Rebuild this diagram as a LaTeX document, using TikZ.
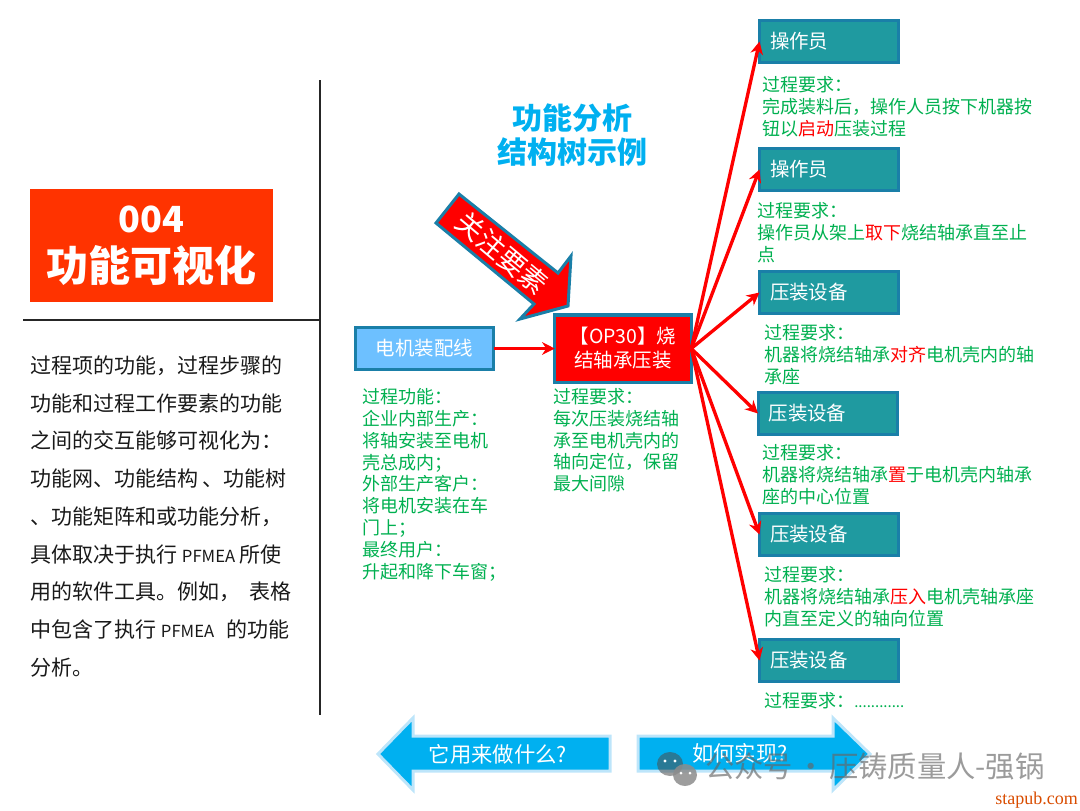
\documentclass[tikz,border=0pt]{standalone}
\usepackage{fontspec}
\setmainfont{Noto Sans CJK SC}
\newfontfamily\wmserif{Liberation Serif}
\usetikzlibrary{arrows.meta}
\definecolor{procgreen}{HTML}{00B050}
\definecolor{edgeblue}{HTML}{1A7FA8}
\definecolor{tealfill}{HTML}{1F9AA0}
\definecolor{skyfill}{HTML}{6DC0FF}
\definecolor{titlered}{HTML}{FF3300}
\definecolor{cyanfill}{HTML}{00B0F0}
\definecolor{cyanedge}{HTML}{BDE5FA}
\newcommand{\rd}[1]{\textcolor{red}{#1}}
\tikzset{
  x=0.75pt,y=-0.75pt,
  tealbox/.style={draw=edgeblue,fill=tealfill,line width=2.25pt,text=white,minimum width=104.25pt,minimum height=31.5pt,
    text width=88.45pt,inner xsep=7.9pt,inner ysep=0pt,align=left,font=\fontsize{14.6}{17}\selectfont,outer sep=0pt},
  greentext/.style={anchor=north west,inner sep=0pt,align=left,text=procgreen,font=\fontsize{13.5}{16.4}\selectfont},
  redarrow/.style={draw=red,line width=2.5pt,-{Stealth[length=9.5pt,width=9.5pt]}},
  bigshape/.style={fill=cyanfill,draw=cyanedge,line width=2.25pt,line join=miter},
  rule/.style={draw=black!85,line width=0.9pt},
}
\begin{document}
\begin{tikzpicture}
\useasboundingbox (0,0) rectangle (1080,810);
% frame lines
\coordinate (hl) at (23,320); \coordinate (hr) at (320,320);
\coordinate (vt) at (320,80); \coordinate (vb) at (320,715);
\draw[rule] (hl) -- (hr);
\draw[rule] (vt) -- (vb);
% title
\node[fill=titlered,text=white,minimum width=182.25pt,minimum height=84.75pt,inner sep=0pt,align=center,font=\bfseries] (title) at (151.5,245.5)
 {\fontsize{27}{36}\selectfont 004\\[8.5pt]\fontsize{31.5}{38}\selectfont 功能可视化};
% left text
\node[anchor=north west,inner sep=0pt,align=left,text=black!90,font=\fontsize{15.75}{28.3}\selectfont] (desc) at (30,355.5)
 {过程项的功能，过程步骤的\\
  功能和过程工作要素的功能\\
  之间的交互能够可视化为：\\
  功能网、功能结构 、功能树\\
  、功能矩阵和或功能分析，\\
  具体取决于执行 {\fontsize{12.5}{28.3}\selectfont PFMEA} 所使\\
  用的软件工具。例如，\hspace{3.7pt} 表格\\
  中包含了执行 {\fontsize{12.5}{28.3}\selectfont PFMEA}\hspace{6pt} 的功能\\
  分析。};
% heading
\node[text=cyanfill,inner sep=0pt,align=center,font=\bfseries\fontsize{22.5}{25.5}\selectfont] (head) at (572,135)
 {功能分析\\结构树示例};
% big callout arrow
\draw[fill=red,draw=edgeblue,line width=2.25pt,line join=miter]
  (459,194) -- (558,273) -- (571,256) -- (568,306) -- (520,319) -- (534,304) -- (436,223) -- cycle;
\node[text=white,rotate=-40,inner sep=0pt,font=\fontsize{20.5}{22}\selectfont] (focus) at (502,253) {关注要素};
% main boxes
\node[draw=edgeblue,fill=skyfill,line width=2.25pt,text=white,minimum width=103.5pt,minimum height=31.5pt,inner sep=0pt,outer sep=0pt,font=\fontsize{14.6}{17}\selectfont] (line) at (424.5,348.5) {电机装配线};
\node[draw=edgeblue,fill=red,line width=2.6pt,text=white,minimum width=102.4pt,minimum height=50.6pt,inner sep=0pt,outer sep=0pt,align=center,font=\fontsize{14.6}{18}\selectfont] (op) at (623,348.5) {【OP30】烧\\结轴承压装};
% teal boxes
\node[tealbox] (b1) at (829,41.5) {操作员};
\node[tealbox] (b2) at (829,169.5) {操作员};
\node[tealbox] (b3) at (829,292.5) {压装设备};
\node[tealbox] (b4) at (827.5,413.5) {压装设备};
\node[tealbox] (b5) at (829,534.5) {压装设备};
\node[tealbox] (b6) at (829,660.5) {压装设备};
% connectors
\draw[redarrow] (line.east) -- (op.west);
\foreach \t in {b1,b2,b3,b4,b5,b6} \draw[redarrow] (op.east) -- (\t.west);
% green texts
\node[greentext] (t0) at (362,388) {过程功能：\\企业内部生产：\\将轴安装至电机\\壳总成内；\\外部生产客户：\\将电机安装在车\\门上；\\最终用户：\\升起和降下车窗；};
\node[greentext] (t1) at (553,388) {过程要求：\\每次压装烧结轴\\承至电机壳内的\\轴向定位，保留\\最大间隙};
\node[greentext] (r1) at (762,76) {过程要求：\\完成装料后，操作人员按下机器按\\钮以\rd{启动}压装过程};
\node[greentext] (r2) at (757,202) {过程要求：\\操作员从架上\rd{取下}烧结轴承直至止\\点};
\node[greentext] (r3) at (764,324) {过程要求：\\机器将烧结轴承\rd{对齐}电机壳内的轴\\承座};
\node[greentext] (r4) at (762,444) {过程要求：\\机器将烧结轴承\rd{置}于电机壳内轴承\\座的中心位置};
\node[greentext] (r5) at (764,566) {过程要求：\\机器将烧结轴承\rd{压入}电机壳轴承座\\内直至定义的轴向位置};
\node[greentext] (r6) at (764,692) {过程要求：{\fontsize{11.25}{16.4}\selectfont ............}};
% bottom arrows
\draw[bigshape] (378,754) -- (413,718) -- (413,736) -- (610,736) -- (610,771) -- (413,771) -- (413,790) -- cycle;
\node[text=white,inner sep=0pt,font=\fontsize{16}{18}\selectfont] (what) at (498,754) {它用来做什么?};
\draw[bigshape] (870,754) -- (833,718) -- (833,736) -- (638,736) -- (638,771) -- (833,771) -- (833,790) -- cycle;
\node[text=white,inner sep=0pt,font=\fontsize{16}{18}\selectfont] (how) at (740,753) {如何实现?};
% watermark
\fill[black!70,opacity=.55] (670,764) ellipse (13 and 12);
\fill[black!45,opacity=.85] (685,775) ellipse (12 and 11);
\fill[white] (665,761) circle (1.7) (675,761) circle (1.7) (681,773) circle (1.5) (690,773) circle (1.5);
\node[text=black!60,opacity=.65,inner sep=0pt,anchor=west,font=\fontsize{22}{24}\selectfont] (wm) at (705,766.5) {公众号\hspace{-2.5pt} · \hspace{-2.5pt}压铸质量人-强锅};
\node[text=orange!70!red!85!black,inner sep=0pt,anchor=east,font=\wmserif\fontsize{13.5}{15}\selectfont] (site) at (1078,800) {stapub.com};
\end{tikzpicture}
\end{document}
